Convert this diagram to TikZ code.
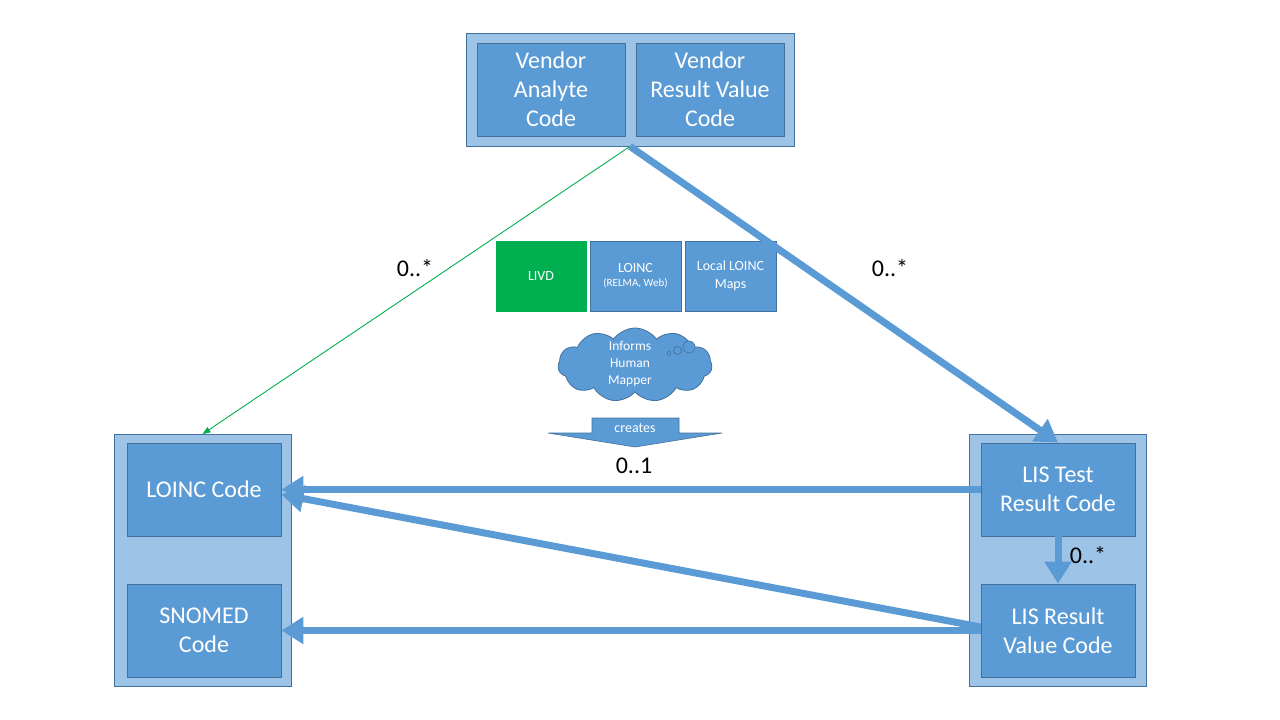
\documentclass[tikz,border=0pt]{standalone}
\usepackage{fontspec}
\setmainfont{Carlito}
\usetikzlibrary{arrows.meta,shapes.symbols}
\definecolor{outerfill}{HTML}{9DC3E6}
\definecolor{innerfill}{HTML}{5B9BD5}
\definecolor{edgeblue}{HTML}{41719C}
\definecolor{livdgreen}{HTML}{00B050}
\tikzset{
  outerbox/.style={draw=edgeblue, fill=outerfill, line width=0.8pt, inner sep=0pt},
  innerbox/.style={draw=edgeblue, fill=innerfill, line width=0.8pt, text=white, align=center,
    font=\fontsize{24}{29}\selectfont, inner sep=0pt, minimum width=154pt, minimum height=93pt},
  smallbox/.style={draw=edgeblue, fill=innerfill, line width=0.8pt, text=white, align=center,
    font=\fontsize{14}{18}\selectfont, inner sep=0pt, minimum width=91pt, minimum height=70pt},
  bigarrow/.style={draw=innerfill, line width=7pt, -{Triangle[length=22pt,width=26pt]}},
  mult/.style={font=\fontsize{24}{28}\selectfont, text=black},
}
\begin{document}
\begin{tikzpicture}[x=1pt,y=-1pt]
\useasboundingbox (0,0) rectangle (1280,720);
% top group
\node[outerbox, minimum width=328pt, minimum height=113pt] (vend) at (630,89.5) {};
\node[innerbox, minimum width=148pt] (va) at (551,89.5) {Vendor\\Analyte\\Code};
\node[innerbox, minimum width=148pt] (vr) at (710,89.5) {Vendor\\Result Value\\Code};
% left group
\node[outerbox, minimum width=177pt, minimum height=252pt] (lo) at (202.5,560.5) {};
\node[innerbox] (lc) at (204,489.5) {LOINC Code};
\node[innerbox] (sc) at (204,630.5) {SNOMED\\Code};
% right group
\node[outerbox, minimum width=177pt, minimum height=252pt] (ro) at (1057.5,560.5) {};
\node[innerbox] (lt) at (1058,489.5) {LIS Test\\Result Code};
\node[innerbox] (lr) at (1058,630.5) {LIS Result\\Value Code};
% sources
\node[smallbox, fill=livdgreen, draw=livdgreen, minimum width=90pt] (livd) at (541,276) {LIVD};
\node[smallbox] (loinc) at (635.5,276) {LOINC\\[-4pt]{\fontsize{11}{13}\selectfont (RELMA, Web)}};
\node[smallbox] (local) at (730.5,276) {Local LOINC\\Maps};
% cloud
\node[cloud, cloud puffs=11, cloud puff arc=110, aspect=2.1, draw=edgeblue, fill=innerfill, line width=0.8pt,
  minimum width=154pt, minimum height=74pt, inner sep=0pt] (cl) at (635,365) {};
\node[text=white, align=center, font=\fontsize{13.5}{17}\selectfont] (clt) at (630,364) {Informs\\Human\\Mapper};
\draw[edgeblue, fill=innerfill, line width=0.6pt] (669,353.5) circle (2pt) (677.5,350.5) circle (4pt) (689,347) circle (6pt);
% creates arrow
\draw[edgeblue, fill=innerfill, line width=0.6pt] (592,418) -- (679,418) -- (679,433) -- (722,433) -- (635,447) -- (548,433) -- (592,433) -- cycle;
\node[text=white, font=\fontsize{14}{16}\selectfont] (cr) at (635,428.5) {creates};
% connectors
\draw[livdgreen, line width=0.9pt, -{Triangle[length=8pt,width=6pt]}] (vend.south) -- (lo.north);
\draw[bigarrow] (vend.south) -- (lt.north);
\draw[bigarrow] (lt.west) -- (lc.east);
\draw[bigarrow] ([yshift=3.5pt]lr.west) -- ([yshift=-5pt]lc.east);
\draw[bigarrow] (lr.west) -- (sc.east);
\draw[bigarrow] (lt.south) -- (lr.north);
% multiplicities
\node[mult] (m1) at (415,268) {0..*};
\node[mult] (m2) at (890,268) {0..*};
\node[mult] (m3) at (1088,555) {0..*};
\node[mult] (m4) at (634,466) {0..1};
\end{tikzpicture}
\end{document}
